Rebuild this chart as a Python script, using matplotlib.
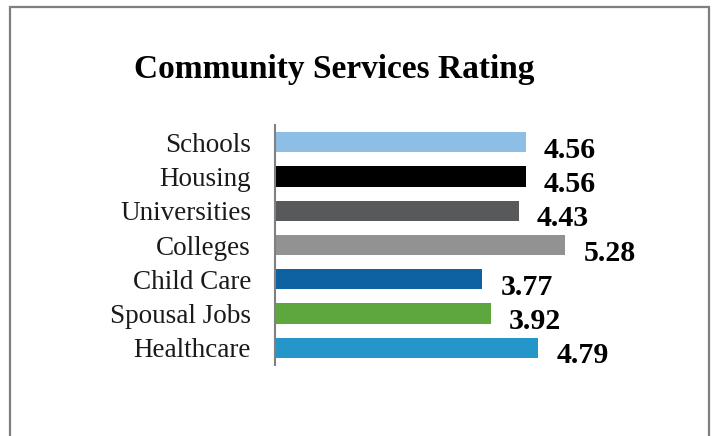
import matplotlib
matplotlib.use("Agg")
import matplotlib.pyplot as plt
from matplotlib.patches import Rectangle

categories = ["Schools", "Housing", "Universities", "Colleges",
              "Child Care", "Spousal Jobs", "Healthcare"]
ratings = [4.56, 4.56, 4.43, 5.28, 3.77, 3.92, 4.79]
bar_colors = ["#8CBEE6", "#000000", "#58595B", "#929292",
              "#0E62A2", "#5EA73E", "#2596C9"]
title = "Community Services Rating"

W, H, DPI = 716, 436, 100
fig = plt.figure(figsize=(W / DPI, H / DPI), dpi=DPI)
fig.patch.set_facecolor("white")

# outer frame (open at the bottom edge)
frame = Rectangle((10 / W, -0.05), (709 - 10) / W, 1.05 - 7 / H,
                  transform=fig.transFigure, fill=False,
                  edgecolor="#7F7F7F", linewidth=1.6, zorder=0)
fig.patches.append(frame)

left, top, bottom = 275, 125, 365
px_per_unit = 55.0
xmax = 7.0
ax = fig.add_axes([left / W, 1 - bottom / H,
                   xmax * px_per_unit / W, (bottom - top) / H])

ypos = list(range(len(categories)))
ax.barh(ypos, ratings, height=0.59, color=bar_colors, zorder=2)
ax.set_ylim(len(categories) - 0.5, -0.5)
ax.set_xlim(0, xmax)

for y, v in zip(ypos, ratings):
    ax.annotate(f"{v:.2f}", xy=(v, y), xytext=(18, -8),
                textcoords="offset pixels", ha="left", va="center",
                fontsize=21.5, fontweight="bold", family="Liberation Serif",
                color="black")

ax.set_yticks(ypos)
ax.set_yticklabels(categories, fontsize=19.5, family="Liberation Serif",
                   color="#1A1A1A")
ax.tick_params(axis="y", length=0, pad=24 * 72 / DPI)
ax.set_xticks([])
for side in ["top", "right", "bottom"]:
    ax.spines[side].set_visible(False)
ax.spines["left"].set_color("#808080")
ax.spines["left"].set_linewidth(1.5)
ax.patch.set_alpha(0)

fig.text(334 / W, 1 - 78 / H, title, ha="center", va="baseline",
         fontsize=24, fontweight="bold", family="Liberation Serif",
         color="black")

fig.savefig("out.png", dpi=DPI, facecolor="white")
